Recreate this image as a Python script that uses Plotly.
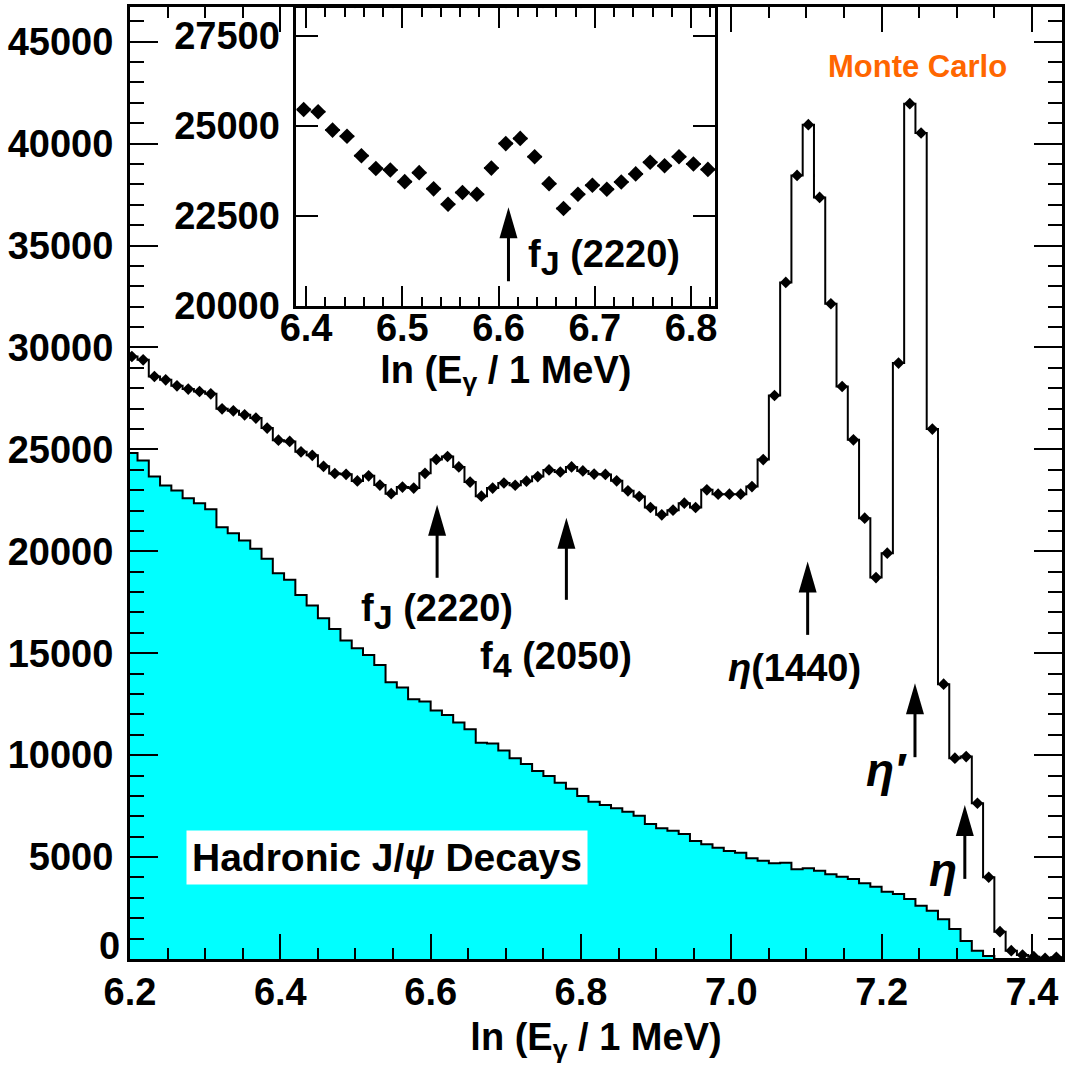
import numpy as np
import plotly.graph_objects as go

# histogram binning (ln E bins)
bin_lo = 6.195
bin_w = 0.015

# Monte Carlo total photon spectrum (points + step line)
mc_counts = [29556, 29394, 28575, 28413, 28118, 27957, 27839, 27726, 26990, 26892,
             26696, 26533, 26042, 25450, 25390, 24880, 24710, 24170, 23815, 23775,
             23450, 23700, 23250, 22825, 23150, 23100, 23825, 24505, 24650, 24140,
             23395, 22705, 23100, 23350, 23240, 23440, 23665, 23990, 23890, 24140,
             23940, 23790, 23770, 23457, 22967, 22687, 22147, 21788, 22019, 22362,
             22147, 23015, 22800, 22800, 22800, 23177, 24500, 27643, 33189, 38438,
             40926, 37361, 32143, 28084, 25469, 21626, 18711, 19909, 29232, 41957,
             40518, 25993, 13480, 9849, 9928, 7640, 4009, 1341, 409, 196,
             115, 33, 82]

# hadronic J/psi decays contribution (cyan)
had_counts = [24816, 24453, 23668, 23226, 22981, 22608, 22362, 22068, 21185, 20890,
              20527, 20120, 19629, 18927, 18598, 17862, 17337, 16719, 16194, 15620,
              15247, 14918, 14427, 13578, 13313, 12744, 12626, 12184, 11974, 11596,
              11272, 10614, 10570, 10222, 9849, 9569, 9226, 8980, 8652, 8357,
              7999, 7719, 7557, 7395, 7228, 7032, 6625, 6414, 6296, 6134,
              5791, 5629, 5462, 5300, 5216, 4942, 4824, 4696, 4726, 4402,
              4451, 4333, 4156, 4039, 3926, 3715, 3548, 3303, 3190, 2944,
              2616, 2370, 1948, 1472, 883, 407, 147, 0, 0, 0,
              0, 0, 0]

# tick labels of the main y axis (the "0" is placed separately above the axis)
y_ticks = [0, 5000, 10000, 15000, 20000, 25000, 30000, 35000, 40000, 45000]
y_ticktext = ["", "5000", "10000", "15000", "20000", "25000", "30000", "35000", "40000", "45000"]

# arrows: (x, tip y, tail y)
main_arrows = [(6.6086, 22280, 18700), (6.7806, 21640, 17620), (7.1016, 19500, 15900),
               (7.2444, 13530, 9900), (7.3107, 7560, 3930)]
inset_arrow = (6.6103, 22740, 20690)

x_range = [6.2, 7.44]
y_range = [0, 46700]
xin_range = [6.39, 6.825]
yin_range = [20000, 28265]

n = len(mc_counts)
edges = bin_lo + bin_w * np.arange(n + 1)
centers = edges[:-1] + bin_w / 2
mc = np.array(mc_counts)
had = np.array(had_counts)

sel = (centers > xin_range[0]) & (centers < xin_range[1])

FONT = "Liberation Sans"
tick_font = dict(family=FONT, size=38, color="black", weight="bold")

fig = go.Figure()
fig.add_trace(go.Scatter(x=edges, y=np.append(had, had[-1]), mode="lines",
                         line=dict(shape="hv", color="black", width=2),
                         fill="tozeroy", fillcolor="#00ffff", showlegend=False))
fig.add_trace(go.Scatter(x=edges, y=np.append(mc, mc[-1]), mode="lines",
                         line=dict(shape="hv", color="black", width=2), showlegend=False))
fig.add_trace(go.Scatter(x=centers, y=mc, mode="markers",
                         marker=dict(symbol="diamond", size=9, color="black"), showlegend=False))
fig.add_trace(go.Scatter(x=centers[sel], y=mc[sel], mode="markers",
                         marker=dict(symbol="diamond", size=12, color="black"),
                         error_x=dict(type="constant", value=bin_w / 2, width=0,
                                      thickness=2, color="black"),
                         xaxis="x2", yaxis="y2", showlegend=False))

axis_common = dict(showline=True, linecolor="black", linewidth=3, mirror="ticks",
                   ticks="inside", tickcolor="black", tickwidth=2, showgrid=False,
                   zeroline=False, tickfont=tick_font)

title_font = dict(family=FONT, size=38, color="black", weight="bold")
fig.update_layout(
    width=1066, height=1078,
    margin=dict(l=130, r=1, t=7, b=119),
    plot_bgcolor="white", paper_bgcolor="white",
    xaxis=dict(axis_common, range=x_range, tick0=6.2, dtick=0.2, tickformat=".1f",
               ticklen=25, ticklabelstandoff=-3,
               minor=dict(dtick=0.05, ticks="inside", ticklen=11, tickwidth=2, tickcolor="black"),
               title=dict(text="ln (E<sub>γ</sub> / 1 MeV)", standoff=12, font=title_font)),
    yaxis=dict(axis_common, range=y_range, tickmode="array", tickvals=y_ticks,
               ticktext=y_ticktext, ticklen=28, ticklabelstandoff=6,
               minor=dict(tick0=0, dtick=1000, ticks="inside", ticklen=14, tickwidth=2,
                          tickcolor="black")),
    xaxis2=dict(axis_common, domain=[0.1786, 0.6278], anchor="y2", range=xin_range,
                tick0=6.4, dtick=0.1, tickformat=".1f", ticklen=20, ticklabelstandoff=-14,
                minor=dict(dtick=0.02, ticks="inside", ticklen=9, tickwidth=2, tickcolor="black"),
                title=dict(text="ln (E<sub>γ</sub> / 1 MeV)", standoff=4, font=title_font)),
    yaxis2=dict(axis_common, domain=[0.6859, 0.9989], anchor="x2", range=yin_range,
                tick0=20000, dtick=2500, ticklen=22, tickformat="d", ticklabelstandoff=6),
)

# arrows drawn as shaft + pixel-sized head
px_main = 952 / (y_range[1] - y_range[0])
px_in = 298 / (yin_range[1] - yin_range[0])
shapes = []
for ax_x, tip, tail in main_arrows:
    shapes.append(dict(type="line", xref="x", yref="y", x0=ax_x, x1=ax_x, y0=tail,
                       y1=tip - 15 / px_main, line=dict(color="black", width=3)))
    shapes.append(dict(type="path", xref="x", yref="y", xsizemode="pixel", ysizemode="pixel",
                       xanchor=ax_x, yanchor=tip, path="M0,0 L-9,-31 L9,-31 Z",
                       fillcolor="black", line=dict(width=0)))
ax_x, tip, tail = inset_arrow
shapes.append(dict(type="line", xref="x2", yref="y2", x0=ax_x, x1=ax_x, y0=tail,
                   y1=tip - 15 / px_in, line=dict(color="black", width=3)))
shapes.append(dict(type="path", xref="x2", yref="y2", xsizemode="pixel", ysizemode="pixel",
                   xanchor=ax_x, yanchor=tip, path="M0,0 L-9,-31 L9,-31 Z",
                   fillcolor="black", line=dict(width=0)))
fig.update_layout(shapes=shapes)

lab_font = dict(family=FONT, size=38, color="black", weight="bold")
fj = "f<sub><span style='font-size:34px'>J</span></sub> (2220)"
f4 = "f<sub><span style='font-size:34px'>4</span></sub> (2050)"
labels = [
    (fj, 6.6086, 17030, "x", "y", lab_font),
    (f4, 6.7663, 14670, "x", "y", lab_font),
    ("<i>η</i>(1440)", 7.0845, 14280, "x", "y", lab_font),
    ("<i>η′</i>", 7.2066, 9275, "x", "y", dict(lab_font, size=46)),
    ("<i>η</i>", 7.2822, 4367, "x", "y", dict(lab_font, size=46)),
    (fj, 6.7093, 21353, "x2", "y2", lab_font),
]
for txt, x, y, xr, yr, f in labels:
    fig.add_annotation(text=txt, x=x, y=y, xref=xr, yref=yr, showarrow=False, font=f)

# "0" of the y axis sits just above the x axis, as in the original
fig.add_annotation(text=str(y_ticks[0]), xref="paper", yref="y", x=0, y=y_ticks[0],
                   xanchor="right", yanchor="bottom", xshift=-8, yshift=-10,
                   showarrow=False, font=tick_font)

fig.add_annotation(text="Hadronic J/<i>ψ</i> Decays", x=6.5419, y=4981, xref="x", yref="y",
                   showarrow=False, bgcolor="white", borderpad=5,
                   font=dict(family=FONT, size=39, color="black", weight="bold"))
fig.add_annotation(text="Monte Carlo", x=7.2475, y=43773, xref="x", yref="y",
                   showarrow=False,
                   font=dict(family=FONT, size=31, color="#ff6600", weight="bold"))

fig.write_html("out.html", config={"displayModeBar": False},
               post_script="document.body.style.margin='0';")
